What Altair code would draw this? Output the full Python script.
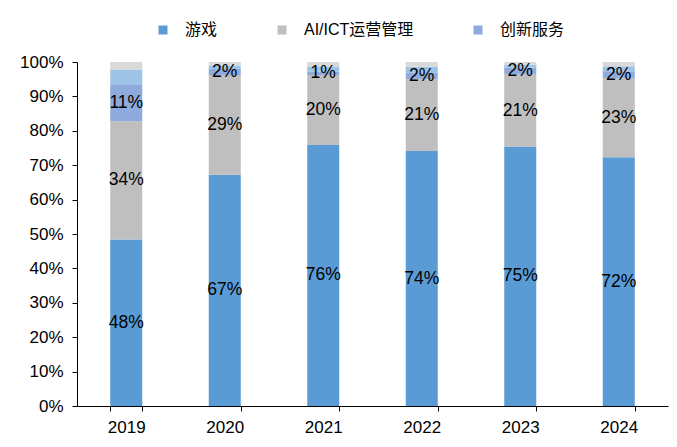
import altair as alt
import pandas as pd

years = ["2019", "2020", "2021", "2022", "2023", "2024"]
series = ["游戏", "AI/ICT运营管理", "创新服务", "其他A", "其他B"]
game = [48.4, 67.2, 75.9, 74.1, 75.4, 72.3]
ai_ict = [34.4, 29.0, 20.3, 20.9, 21.0, 23.0]
innov = [10.7, 1.8, 1.0, 2.0, 2.0, 2.0]
other_a = [4.3, 1.0, 1.5, 1.6, 0.8, 1.5]
other_b = [2.2, 1.0, 1.3, 1.4, 0.8, 1.2]
y_ticks = [0, 10, 20, 30, 40, 50, 60, 70, 80, 90, 100]
colors = ["#5B9BD5", "#BFBFBF", "#8FAADC", "#9DC3E6", "#D9D9D9"]
labeled = [True, True, True, False, False]

rows = []
for si, (name, vals) in enumerate(zip(series, [game, ai_ict, innov, other_a, other_b])):
    for y, v in zip(years, vals):
        rows.append({"year": y, "series": name, "value": v, "ord": si, "lab": labeled[si]})
df = pd.DataFrame(rows)

FONT = "Liberation Sans, Arial, Noto Sans CJK SC"

base = alt.Chart(df).transform_stack(
    stack="value", groupby=["year"], as_=["v0", "v1"], sort=[alt.SortField("ord", order="ascending")]
).transform_calculate(mid="(datum.v0 + datum.v1) / 2")

xscale = alt.Scale(paddingInner=0.675, paddingOuter=0.3375)
yscale = alt.Scale(domain=[0, 100], nice=False)

xaxis = alt.Axis(labelAngle=0, tickBand="extent", labelPadding=8, grid=False)
yaxis = alt.Axis(values=y_ticks, labelExpr="datum.value + '%'", labelOverlap=False,
                 grid=False, labelPadding=9, tickCount=11)

bars = base.mark_bar(stroke=None).encode(
    x=alt.X("year:N", title=None, scale=xscale, axis=xaxis),
    y=alt.Y("v0:Q", scale=yscale, title=None, axis=yaxis),
    y2="v1:Q",
    color=alt.Color("series:N", scale=alt.Scale(domain=series, range=colors),
                    legend=alt.Legend(values=series[:3], title=None, orient="none",
                                      direction="horizontal", legendX=78, legendY=-40,
                                      symbolType="square", symbolSize=81, symbolStrokeWidth=0,
                                      labelFontSize=16, labelFont=FONT, labelColor="#000",
                                      labelOffset=14, columnPadding=56)),
)

texts = base.transform_filter("datum.lab").mark_text(fontSize=17.5, font=FONT, color="#000").encode(
    x=alt.X("year:N", title=None, scale=xscale, axis=xaxis),
    y=alt.Y("mid:Q", scale=yscale, title=None, axis=yaxis),
    text=alt.Text("label:N"),
).transform_calculate(label="format(datum.value, '.0f') + '%'")

chart = alt.layer(bars, texts).properties(
    width=591, height=344,
    background="white",
    autosize=alt.AutoSizeParams(type="none"),
    padding={"left": 77, "top": 62, "right": 9, "bottom": 41},
).configure_view(stroke=None, strokeWidth=0).configure_axis(
    labelFontSize=17, labelFont=FONT, labelColor="#000", domainColor="#000",
    tickColor="#000", tickSize=5, grid=False
)

chart.save("out.html", embed_options={"renderer": "svg", "actions": False})
